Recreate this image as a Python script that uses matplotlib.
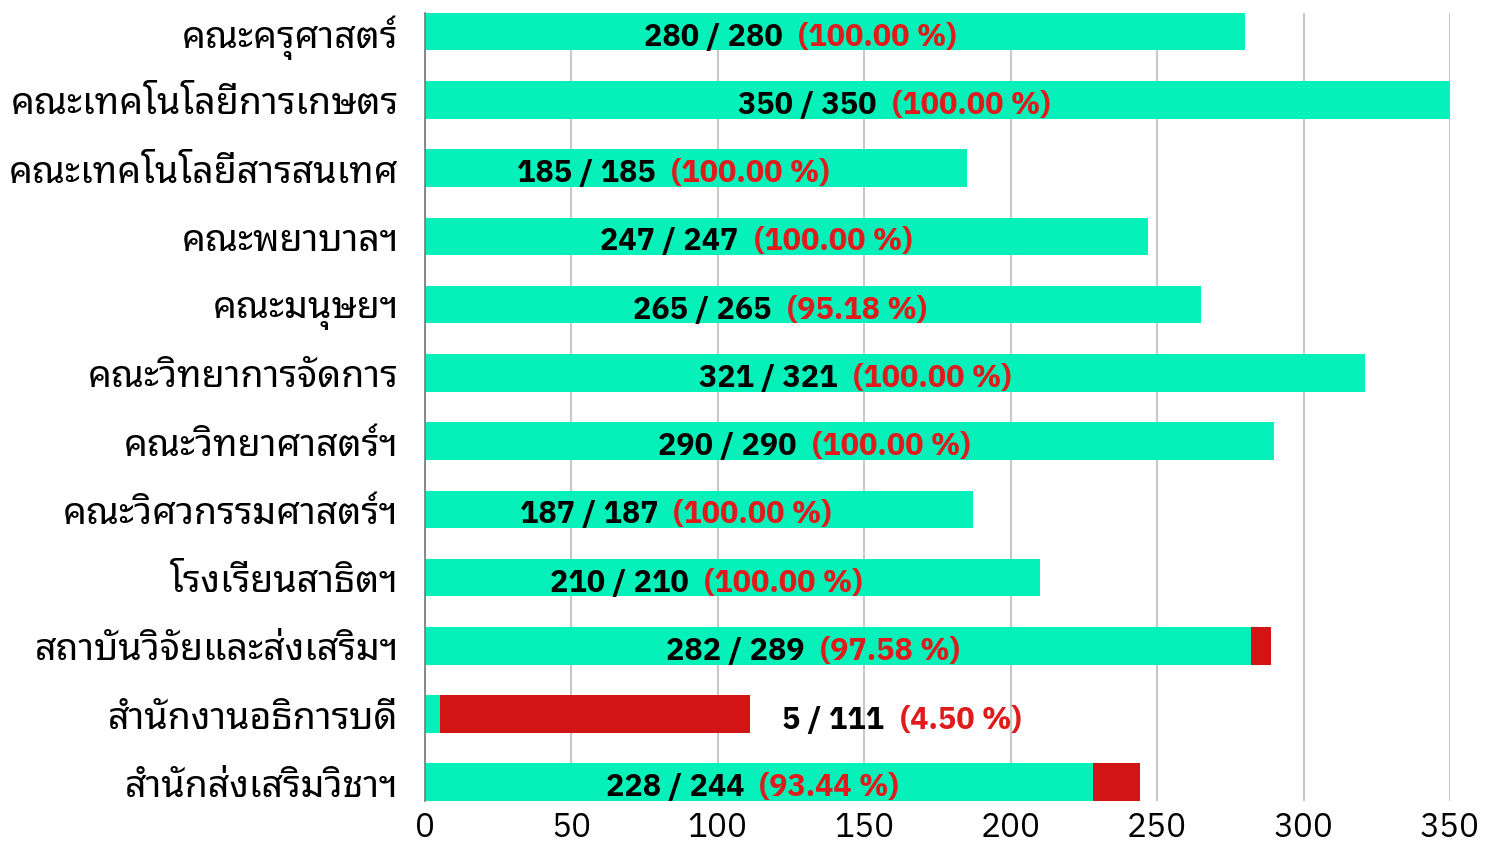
import matplotlib
matplotlib.use("Agg")
import matplotlib.pyplot as plt
from matplotlib.offsetbox import TextArea, HPacker, AnnotationBbox

# ─── Data (top to bottom) ─────────────────────────────────────────────────────
units = [
    "คณะครุศาสตร์",
    "คณะเทคโนโลยีการเกษตร",
    "คณะเทคโนโลยีสารสนเทศ",
    "คณะพยาบาลฯ",
    "คณะมนุษยฯ",
    "คณะวิทยาการจัดการ",
    "คณะวิทยาศาสตร์ฯ",
    "คณะวิศวกรรมศาสตร์ฯ",
    "โรงเรียนสาธิตฯ",
    "สถาบันวิจัยและส่งเสริมฯ",
    "สำนักงานอธิการบดี",
    "สำนักส่งเสริมวิชาฯ",
]
done = [280, 350, 185, 247, 265, 321, 290, 187, 210, 282, 5, 228]
total = [280, 350, 185, 247, 265, 321, 290, 187, 210, 289, 111, 244]
pct_labels = ["100.00", "100.00", "100.00", "100.00", "95.18", "100.00",
              "100.00", "100.00", "100.00", "97.58", "4.50", "93.44"]
xticks = [0, 50, 100, 150, 200, 250, 300, 350]

GREEN = "#06F0BA"
RED = "#D31414"
THAI = ["Noto Sans Thai Looped", "DejaVu Sans"]
NUM = ["IBM Plex Sans Thai", "DejaVu Sans"]

fig = plt.figure(figsize=(14.88, 8.47), dpi=100)
ax = fig.add_axes([0.2856, 0.0543, 0.9745 - 0.2856, 0.9847 - 0.0543])

h = 0.55
ypos = list(range(len(units)))
remain = [t - d for d, t in zip(done, total)]
ax.barh(ypos, done, height=h, color=GREEN, zorder=2)
ax.barh(ypos, remain, left=done, height=h, color=RED, zorder=2)

ax.set_ylim(len(units) - 1 + h / 2, -h / 2)
ax.set_xlim(0, 350)

# value labels: black "a / b" + red "(pct %)"
for y, d, t, p in zip(ypos, done, total, pct_labels):
    black = TextArea(f"{d} / {t}", textprops=dict(
        fontsize=22, fontweight="bold", color="black", family=NUM))
    red = TextArea(f"({p} %)", textprops=dict(
        fontsize=22, fontweight="bold", color="#E01B1B", family=NUM))
    pack = HPacker(children=[black, red], sep=11, pad=0, align="baseline")
    if d / t < 0.5:
        ab = AnnotationBbox(pack, (t + 11, y + 0.1), xycoords="data",
                            box_alignment=(0, 0.5), frameon=False, pad=0)
    else:
        ab = AnnotationBbox(pack, (0.458 * t, y + 0.08), xycoords="data",
                            box_alignment=(0.5, 0.5), frameon=False, pad=0)
    ab.set_zorder(4)
    ax.add_artist(ab)

ax.set_yticks(ypos)
ax.set_yticklabels(units, family=THAI, fontsize=27, fontweight="medium")
ax.set_xticks(xticks)
ax.set_xticklabels([str(v) for v in xticks], family=NUM, fontsize=24)
ax.tick_params(axis="both", length=0)
ax.tick_params(axis="y", pad=19)
ax.tick_params(axis="x", pad=8)

ax.xaxis.grid(True, color="#C8C8C8", linewidth=1.5, zorder=0)
ax.set_axisbelow(True)
for s in ["top", "right", "bottom"]:
    ax.spines[s].set_visible(False)
ax.spines["left"].set_color("#777777")
ax.spines["left"].set_linewidth(1.2)

fig.savefig("out.png", dpi=100, facecolor="white")
